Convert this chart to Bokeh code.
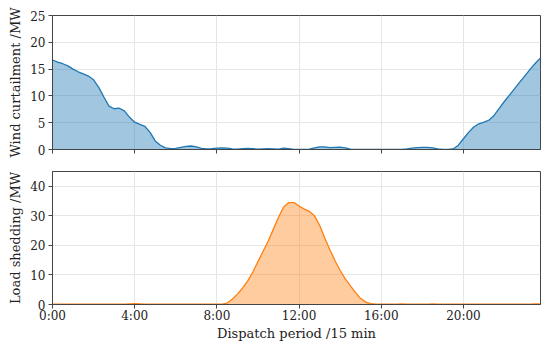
import numpy as np
from bokeh.plotting import figure
from bokeh.layouts import column
from bokeh.models import FixedTicker, ColumnDataSource
from bokeh.embed import file_html
from bokeh.resources import INLINE

periods = list(range(96))
wind_curtailment = [
    16.7, 16.3, 16.0, 15.6, 15.0, 14.5, 14.1, 13.7, 13.0, 11.6,
    9.8, 8.1, 7.6, 7.7, 7.2, 6.0, 5.1, 4.7, 4.3, 3.2,
    1.6, 0.8, 0.3, 0.15, 0.2, 0.4, 0.6, 0.65, 0.5, 0.2,
    0.1, 0.15, 0.25, 0.3, 0.25, 0.1, 0.05, 0.15, 0.2, 0.15,
    0.05, 0.1, 0.15, 0.1, 0.05, 0.25, 0.15, 0.0, 0.0, 0.0,
    0.05, 0.3, 0.5, 0.5, 0.35, 0.4, 0.45, 0.3, 0.05, 0.0,
    0.0, 0.0, 0.0, 0.0, 0.0, 0.0, 0.0, 0.0, 0.0, 0.1,
    0.25, 0.35, 0.4, 0.4, 0.3, 0.1, 0.0, 0.0, 0.1, 0.8,
    2.0, 3.2, 4.2, 4.8, 5.1, 5.5, 6.4, 7.7, 9.0, 10.2,
    11.4, 12.6, 13.8, 15.0, 16.1, 17.1,
]
load_shedding = [
    0.1, 0.1, 0.1, 0.1, 0.1, 0.1, 0.1, 0.1, 0.1, 0.1,
    0.1, 0.1, 0.1, 0.1, 0.15, 0.2, 0.25, 0.2, 0.15, 0.1,
    0.1, 0.1, 0.1, 0.1, 0.1, 0.1, 0.1, 0.1, 0.1, 0.1,
    0.1, 0.1, 0.1, 0.15, 0.5, 1.8, 3.5, 5.5, 8.0, 11.0,
    14.5, 18.0, 21.5, 25.5, 29.5, 33.0, 34.5, 34.5, 33.3, 32.3,
    31.5, 30.0, 26.8, 22.5, 18.5, 14.8, 11.5, 8.7, 6.3, 4.0,
    2.0, 0.8, 0.3, 0.15, 0.1, 0.1, 0.1, 0.15, 0.2, 0.15,
    0.1, 0.1, 0.1, 0.15, 0.2, 0.15, 0.1, 0.1, 0.1, 0.1,
    0.1, 0.1, 0.1, 0.1, 0.1, 0.1, 0.1, 0.1, 0.1, 0.1,
    0.1, 0.1, 0.1, 0.15, 0.2, 0.2,
]
x_tick_positions = [0, 16, 32, 48, 64, 80]
x_tick_labels = ["0:00", "4:00", "8:00", "12:00", "16:00", "20:00"]
wind_yticks = [0, 5, 10, 15, 20, 25]
load_yticks = [0, 10, 20, 30, 40]

FONT = "DejaVu Serif"
FRAME = "#444444"
GRID = "#e6e6e6"

src = ColumnDataSource(dict(x=periods, wind=wind_curtailment, load=load_shedding,
                            zero=[0] * len(periods)))


def style(p, yticks, ylabel):
    p.outline_line_color = FRAME
    p.outline_line_width = 1
    p.outline_line_alpha = 1
    for ax in (p.xaxis[0], p.yaxis[0]):
        ax.axis_line_color = FRAME
        ax.major_tick_line_color = FRAME
        ax.major_tick_out = 4
        ax.major_tick_in = 0
        ax.minor_tick_line_color = None
        ax.major_label_text_font = FONT
        ax.major_label_text_font_size = "12px"
        ax.major_label_text_color = "#222222"
        ax.axis_label_text_font = FONT
        ax.axis_label_text_font_size = "13px"
        ax.axis_label_text_font_style = "normal"
        ax.axis_label_text_color = "#222222"
    p.xaxis.ticker = FixedTicker(ticks=x_tick_positions)
    p.yaxis.ticker = FixedTicker(ticks=yticks)
    p.yaxis.axis_label = ylabel
    p.yaxis.axis_label_standoff = 4
    p.yaxis.major_label_standoff = 3
    p.xgrid.grid_line_color = GRID
    p.ygrid.grid_line_color = GRID
    p.xgrid.ticker = FixedTicker(ticks=x_tick_positions)
    p.ygrid.ticker = FixedTicker(ticks=yticks)


p1 = figure(frame_width=488, frame_height=134, x_range=(0, 95), y_range=(0, 25),
            output_backend="svg", toolbar_location=None,
            min_border_left=52, min_border_right=2, min_border_top=15, min_border_bottom=15)
p1.varea(x="x", y1="zero", y2="wind", source=src, fill_color="#1f77b4", fill_alpha=0.42)
p1.line(x="x", y="wind", source=src, line_color="#1f77b4", line_width=1.3)
style(p1, wind_yticks, "Wind curtailment /MW")
p1.xaxis.major_label_overrides = {t: "" for t in x_tick_positions}
p1.xaxis.major_label_standoff = 0

p2 = figure(frame_width=488, frame_height=133, x_range=p1.x_range, y_range=(0, 45),
            output_backend="svg", toolbar_location=None,
            min_border_left=52, min_border_right=2, min_border_top=7, min_border_bottom=10)
p2.varea(x="x", y1="zero", y2="load", source=src, fill_color="#ff7f0e", fill_alpha=0.4)
p2.line(x="x", y="load", source=src, line_color="#ff7f0e", line_width=1.3)
style(p2, load_yticks, "Load shedding /MW")
p2.xaxis.major_label_overrides = {t: l for t, l in zip(x_tick_positions, x_tick_labels)}
p2.xaxis.axis_label = "Dispatch period /15 min"
p2.xaxis.major_label_standoff = 0
p2.xaxis.axis_label_standoff = 0

layout = column(p1, p2, spacing=0)
open("out.html", "w").write(file_html(layout, INLINE))
